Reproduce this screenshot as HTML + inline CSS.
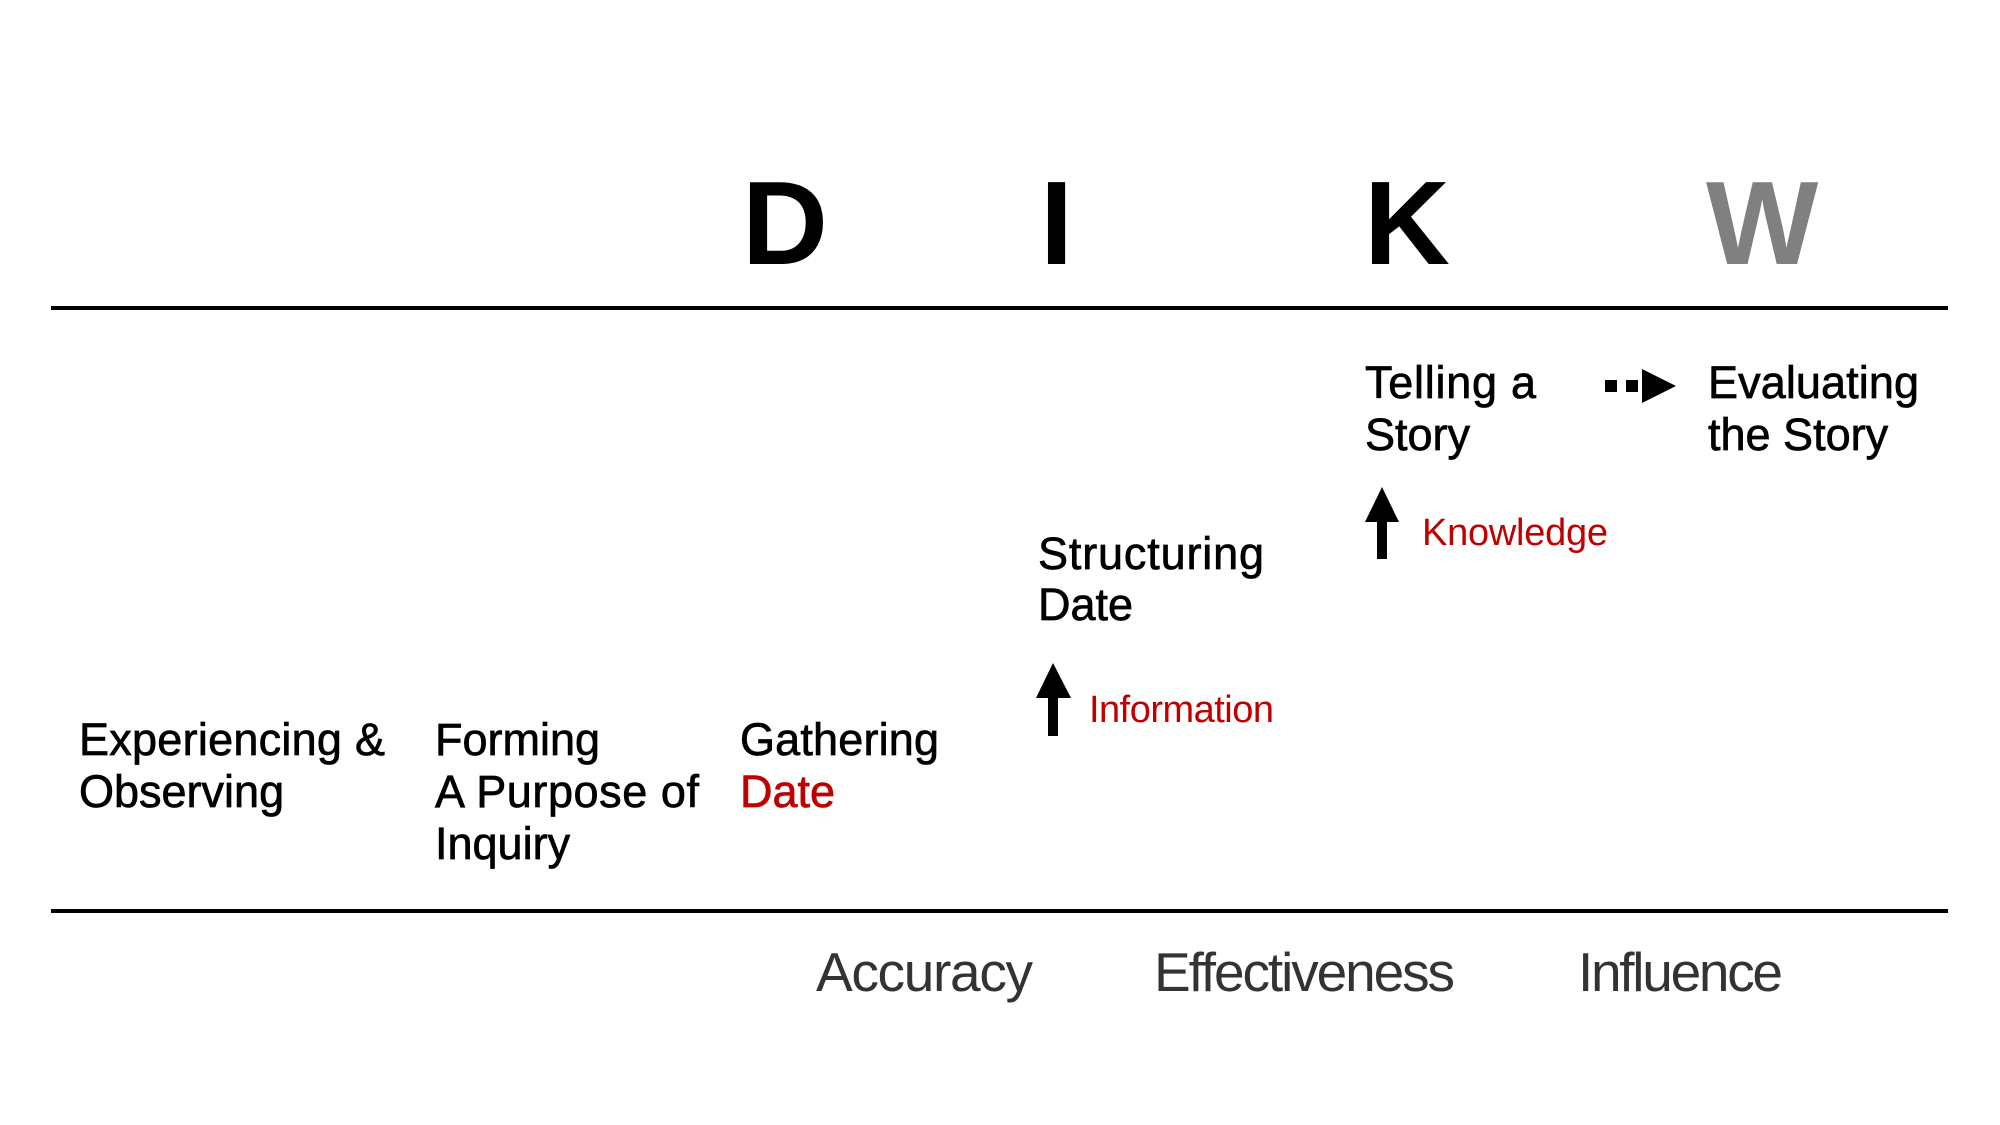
<!DOCTYPE html>
<html><head><meta charset="utf-8"><style>html,body{margin:0;padding:0;background:#fff;}svg{display:block}</style></head>
<body>
<svg width="2000" height="1125" viewBox="0 0 2000 1125" xmlns="http://www.w3.org/2000/svg" font-family="Liberation Sans, Arial, sans-serif">
<rect width="2000" height="1125" fill="#fff"/>
<g font-weight="bold" font-size="119">
<text x="742" y="264" fill="#000">D</text>
<text x="1040" y="264" fill="#000">I</text>
<text x="1364" y="264" fill="#000">K</text>
<text x="1706" y="264" fill="#808080">W</text>
</g>
<rect x="51" y="306" width="1897" height="4" fill="#000"/>
<rect x="51" y="909" width="1897" height="4" fill="#000"/>
<g font-size="45" fill="#000" stroke="#000" stroke-width="0.7">
<text x="79" y="755" textLength="306">Experiencing &amp;</text>
<text x="79" y="807">Observing</text>
<text x="435" y="755">Forming</text>
<text x="435" y="807" textLength="264">A Purpose of</text>
<text x="435" y="859">Inquiry</text>
<text x="740" y="755" textLength="199">Gathering</text>
<text x="740" y="807" fill="#c00000" stroke="#c00000">Date</text>
<text x="1038" y="569" textLength="226">Structuring</text>
<text x="1038" y="620">Date</text>
<text x="1365" y="398" textLength="171">Telling a</text>
<text x="1365" y="450">Story</text>
<text x="1708" y="398" textLength="211">Evaluating</text>
<text x="1708" y="450">the Story</text>
</g>
<g font-size="38" fill="#c00000">
<text x="1422" y="545" textLength="186">Knowledge</text>
<text x="1089" y="722" textLength="185">Information</text>
</g>
<polygon points="1382,487 1399,522 1387,522 1387,559 1377,559 1377,522 1365,522" fill="#000"/>
<polygon points="1053,663 1071,698 1058,698 1058,736 1048,736 1048,698 1036,698" fill="#000"/>
<rect x="1605" y="380" width="12" height="12" fill="#000"/>
<rect x="1626" y="380" width="12" height="12" fill="#000"/>
<polygon points="1642,369 1676,386 1642,403" fill="#000"/>
<g font-size="55" fill="#333">
<text x="816" y="991" textLength="217">Accuracy</text>
<text x="1154" y="991" textLength="301">Effectiveness</text>
<text x="1578" y="991" textLength="205">Influence</text>
</g>
</svg>
</body></html>
